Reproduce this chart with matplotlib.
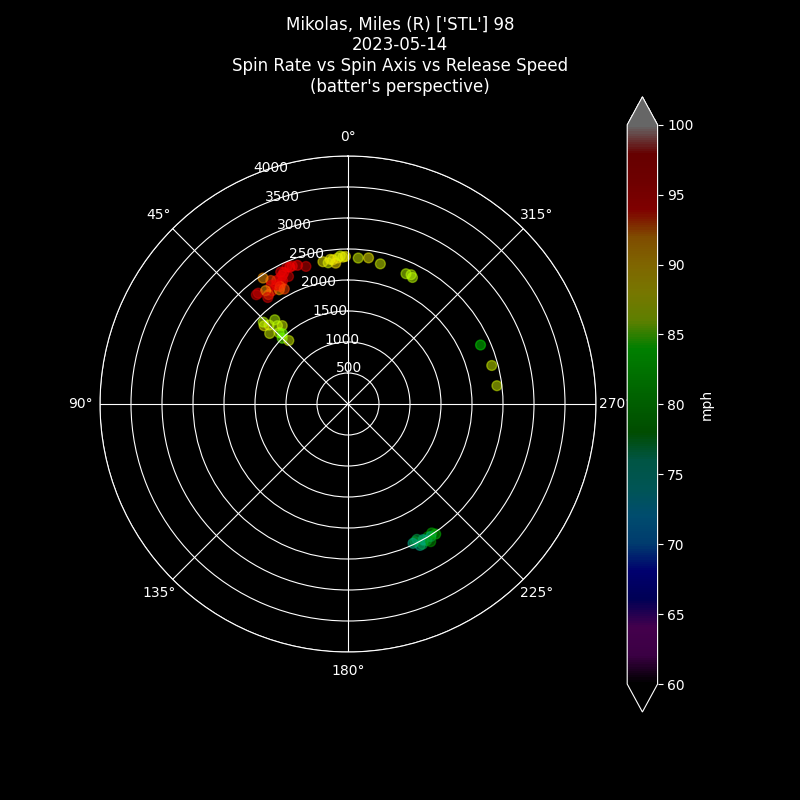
import numpy as np
import matplotlib
matplotlib.use("Agg")
import matplotlib.pyplot as plt

# spin axis (deg), spin rate (rpm), release speed (mph)
axis_deg = [30, 28, 32, 34, 22, 31, 27, 33, 39, 24, 26, 36, 36, 29, 20, 28, 37, 30, 17, 25, 34, 31, 29, 23, 40, 27,
            6, 4, 8, 2, 10, 5, 3, 7, 1, 356, 352, 347, 336, 334, 333,
            45, 42, 47, 44, 40, 46, 43, 48, 41, 45, 43,
            294, 285, 277,
            209, 211, 207, 213, 210, 206, 212, 208, 214, 209, 211, 207, 205]
spin_rpm = [2300, 2250, 2350, 2200, 2400, 2150, 2330, 2280, 2300, 2420, 2360, 2180, 2260, 2230, 2380, 2310, 2150, 2190, 2320, 2270, 2450, 2240, 2120, 2400, 2300, 2390,
            2340, 2360, 2300, 2370, 2330, 2280, 2390, 2350, 2380, 2360, 2380, 2320, 2300, 2320, 2290,
            1800, 1700, 1850, 1600, 1650, 1900, 1550, 1700, 1800, 1500, 1400,
            2340, 2400, 2420,
            2520, 2500, 2560, 2480, 2540, 2470, 2520, 2560, 2530, 2500, 2590, 2450, 2480]
speed = [94, 95, 93, 94, 96, 92, 94, 95, 97, 96, 94, 93, 92, 95, 94, 96, 97, 93, 96, 96, 92, 95, 93, 94, 97, 95,
         88, 89, 87, 88, 88, 89, 87, 88, 88, 87, 88, 87, 86, 86, 86,
         87, 86, 88, 86, 87, 86, 85, 87, 86, 85, 87,
         82, 87, 87,
         77, 78, 76, 79, 77, 78, 76, 77, 80, 76, 78, 77, 76]

plt.rcParams['font.family'] = ['DejaVu Sans']
fig = plt.figure(figsize=(8, 8), dpi=100, facecolor='black')
ax = fig.add_axes([0.125, 0.185, 0.62, 0.62], projection='polar', facecolor='black')
cmap = plt.get_cmap('nipy_spectral')
sc = ax.scatter(np.deg2rad(axis_deg), spin_rpm, c=speed, cmap=cmap, vmin=60, vmax=100, s=50, alpha=0.5)
ax.set_theta_zero_location('N')
ax.set_theta_direction(1)
ax.set_ylim(0, 4000)
ax.set_yticks([500, 1000, 1500, 2000, 2500, 3000, 3500, 4000])
ax.set_rlabel_position(22.5)
ax.grid(color='white', linewidth=0.8)
ax.spines['polar'].set_color('white')
ax.tick_params(colors='white', labelsize=10)
for t in ax.get_yticklabels():
    t.set_color('white')
fig.text(0.5, 0.88, "Mikolas, Miles (R) ['STL'] 98\n2023-05-14\nSpin Rate vs Spin Axis vs Release Speed\n(batter's perspective)",
         color='white', fontsize=12, ha='center', va='bottom', linespacing=1.2)

cax = fig.add_axes([0.784, 0.11, 0.038, 0.769], facecolor='black')
cb = fig.colorbar(sc, cax=cax, extend='both')
cb.solids.set_alpha(0.5)
cb.set_label('mph', color='white')
cb.outline.set_edgecolor('white')
cax.tick_params(colors='white')
for t in cax.get_yticklabels():
    t.set_color('white')
fig.savefig('out.png', facecolor='black')
